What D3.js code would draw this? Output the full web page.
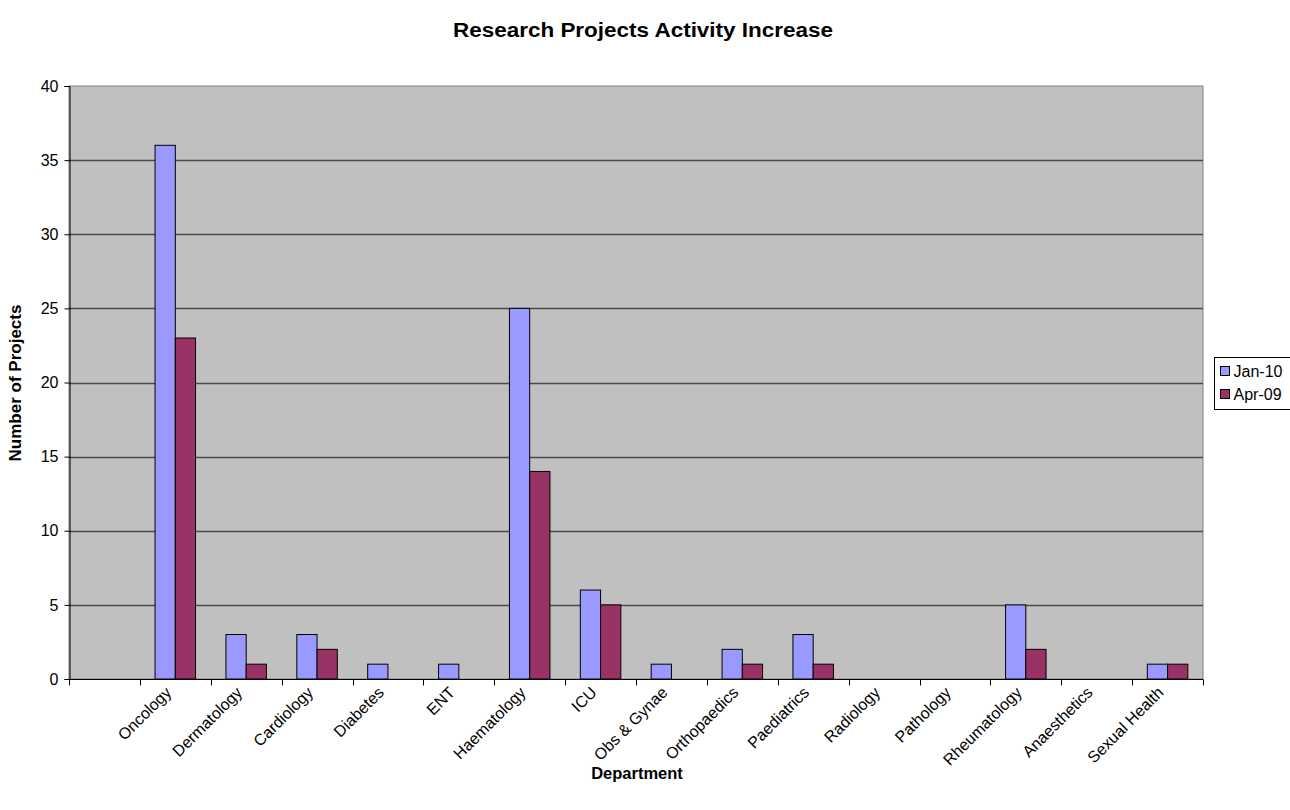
<!DOCTYPE html>
<html>
<head>
<meta charset="utf-8">
<script src="https://cdn.jsdelivr.net/npm/d3@7"></script>
<style>
  body { margin: 0; background: #fff; }
  svg { display: block; font-family: "Liberation Sans", Arial, sans-serif; }
</style>
</head>
<body>
<svg id="chart" width="1290" height="810"></svg>
<script>
// Departments (first slot is an unlabeled empty category)
const categories = ["", "Oncology", "Dermatology", "Cardiology", "Diabetes", "ENT", "Haematology", "ICU",
  "Obs & Gynae", "Orthopaedics", "Paediatrics", "Radiology", "Pathology", "Rheumatology",
  "Anaesthetics", "Sexual Health"];
const seriesNames = ["Jan-10", "Apr-09"];
const jan10 = [null, 36, 3, 3, 1, 1, 25, 6, 1, 2, 3, 0, 0, 5, 0, 1];
const apr09 = [null, 23, 1, 2, 0, 0, 14, 5, 0, 1, 1, 0, 0, 2, 0, 1];
const yTicks = [0, 5, 10, 15, 20, 25, 30, 35, 40];
const colors = ["#9999FF", "#993366"];

const svg = d3.select("#chart");
const plot = { left: 69, right: 1203, top: 86, bottom: 679 };

const x = d3.scaleBand().domain(d3.range(categories.length))
  .range([plot.left, plot.right]).paddingInner(0).paddingOuter(0);
const y = d3.scaleLinear().domain([0, 40]).range([plot.bottom, plot.top]);

// Plot background
svg.append("rect")
  .attr("x", plot.left).attr("y", plot.top)
  .attr("width", plot.right - plot.left).attr("height", plot.bottom - plot.top)
  .attr("fill", "#C0C0C0").attr("stroke", "#808080").attr("stroke-width", 1);

// Horizontal gridlines
svg.append("g").selectAll("line").data(yTicks.filter(d => d > 0 && d < 40)).join("line")
  .attr("x1", plot.left).attr("x2", plot.right)
  .attr("y1", d => Math.round(y(d)) + 0.5).attr("y2", d => Math.round(y(d)) + 0.5)
  .attr("stroke", "#4a4a4a").attr("stroke-width", 1.3);

// Bars
const bw = x.bandwidth() / 3.5;
const series = [jan10, apr09];
series.forEach((vals, si) => {
  svg.append("g").selectAll("rect")
    .data(vals.map((v, i) => ({ v, i })).filter(d => d.v !== null && d.v > 0))
    .join("rect")
    .attr("x", d => x(d.i) + x.bandwidth() / 2 - bw + si * bw)
    .attr("y", d => y(d.v))
    .attr("width", bw)
    .attr("height", d => y(0) - y(d.v))
    .attr("fill", colors[si])
    .attr("stroke", "#000").attr("stroke-width", 1);
});

// Y axis
const yAxis = d3.axisLeft(y).tickValues(yTicks).tickSize(5).tickPadding(6);
const gy = svg.append("g").attr("transform", `translate(${plot.left + 0.5},0)`).call(yAxis);
gy.selectAll("text").attr("font-size", 16).attr("fill", "#000")
  .attr("font-family", "Liberation Sans, Arial, sans-serif");
gy.selectAll("line").attr("stroke", "#000");
gy.select(".domain").attr("stroke", "#000");

// X axis: ticks at category boundaries
const gx = svg.append("g").attr("transform", `translate(0,${plot.bottom + 0.5})`);
gx.append("line").attr("x1", plot.left).attr("x2", plot.right).attr("stroke", "#000");
const bounds = d3.range(categories.length + 1).map(i => i < categories.length ? x(i) : plot.right);
gx.selectAll("line.tick").data(bounds).join("line").attr("class", "tick")
  .attr("x1", d => Math.round(d) + 0.5).attr("x2", d => Math.round(d) + 0.5)
  .attr("y1", 0).attr("y2", 6).attr("stroke", "#000");
gx.selectAll("text").data(categories).join("text")
  .attr("transform", (d, i) => `translate(${x(i) + x.bandwidth() / 2 - 3},${14}) rotate(-45)`)
  .attr("text-anchor", "end")
  .attr("font-size", 16).attr("fill", "#000")
  .text(d => d);

// Titles
svg.append("text").attr("x", 643).attr("y", 37).attr("text-anchor", "middle")
  .attr("font-size", 20).attr("font-weight", "bold")
  .attr("textLength", 380).attr("lengthAdjust", "spacingAndGlyphs")
  .text("Research Projects Activity Increase");
svg.append("text").attr("x", 637).attr("y", 779).attr("text-anchor", "middle")
  .attr("font-size", 16.5).attr("font-weight", "bold")
  .text("Department");
svg.append("text").attr("transform", "translate(21,383) rotate(-90)").attr("text-anchor", "middle")
  .attr("font-size", 17).attr("font-weight", "bold").text("Number of Projects");

// Legend
const lg = svg.append("g").attr("transform", "translate(1214.5,357.5)");
lg.append("rect").attr("width", 90).attr("height", 52).attr("fill", "#fff").attr("stroke", "#000");
seriesNames.forEach((name, i) => {
  const row = lg.append("g").attr("transform", `translate(6,${9 + i * 23})`);
  row.append("rect").attr("width", 9).attr("height", 9).attr("fill", colors[i]).attr("stroke", "#000");
  row.append("text").attr("x", 13).attr("y", 10).attr("font-size", 16).text(name);
});
</script>
</body>
</html>
